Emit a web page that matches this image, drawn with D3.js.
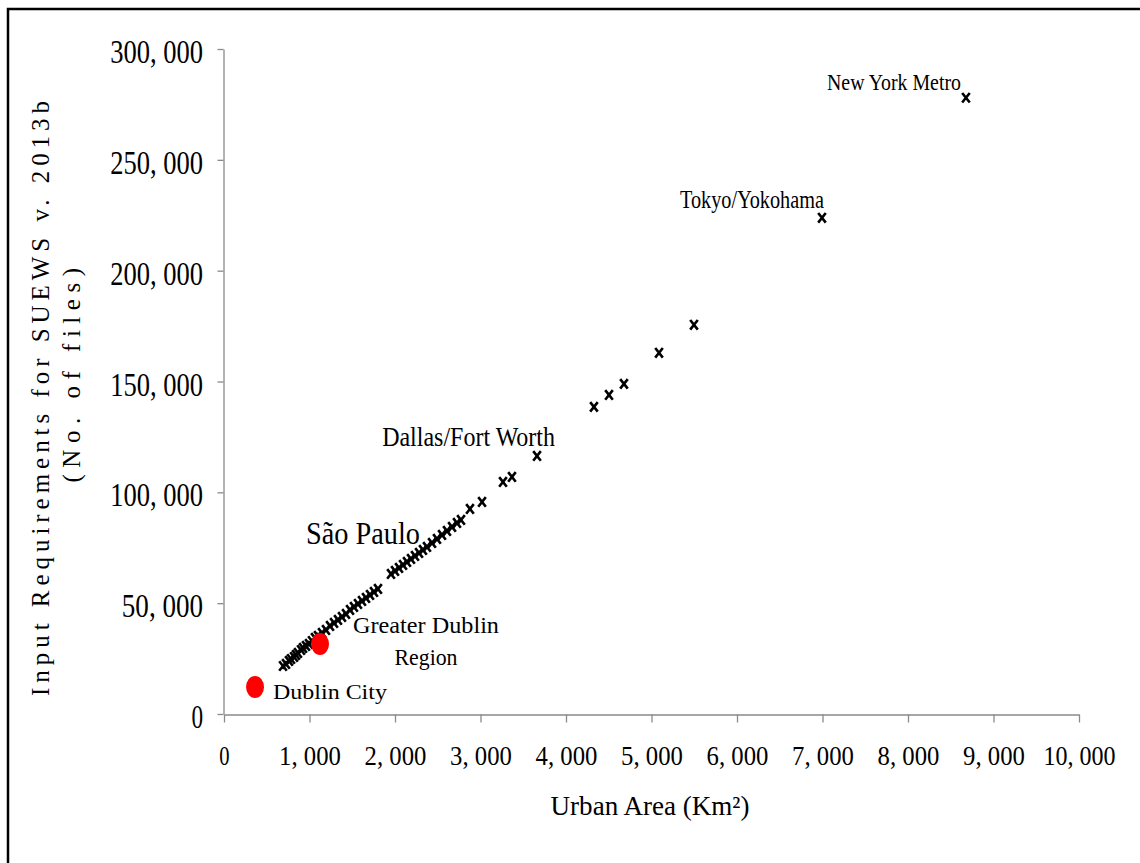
<!DOCTYPE html>
<html>
<head>
<meta charset="utf-8">
<script src="https://cdn.jsdelivr.net/npm/d3@7"></script>
<style>
  html, body { margin: 0; padding: 0; background: #fff; }
  svg { display: block; }
  text { font-family: "Liberation Serif", "DejaVu Serif", serif; fill: #000; }
</style>
</head>
<body>
<svg id="chart" width="1140" height="863"></svg>
<script>
// Urban areas (km²) and SUEWS input requirements (number of files)
const cityArea = [
  690, 725, 760, 784, 819, 842, 865, 901, 924, 959, 994, 1029, 1064, 1099, 1146,
  1193, 1240, 1287, 1333, 1380, 1427, 1474, 1520, 1567, 1614, 1661, 1708, 1754, 1801,
  1953, 2000, 2047, 2094, 2140, 2187, 2234, 2281, 2327, 2374, 2433, 2491, 2550, 2608,
  2667, 2725, 2772, 2877, 3018, 3263, 3368, 3661, 4327, 4503, 4678, 5088, 5497, 6994, 8678
];
const cityFiles = [
  21660, 22570, 23920, 24820, 25720, 26630, 27530, 28880, 29790, 30690, 31590, 32940, 34300, 35200, 36560,
  37910, 39710, 41070, 42420, 43780, 45130, 46940, 48290, 49640, 51000, 52350, 53700, 55060, 56410,
  63180, 64540, 65890, 67240, 68600, 69950, 71310, 72660, 74010, 75370, 77170, 78980, 80780, 82590,
  84390, 86200, 87550, 92520, 95680, 104700, 106960, 116440, 138550, 143960, 148930, 162920, 175560, 223840, 278000
];

// Dublin study areas
const dublinNames = ["Dublin City", "Greater Dublin Region"];
const dublinArea = [363, 1123];
const dublinFiles = [12190, 31590];

// Named metropolitan areas
const metroNames = ["New York Metro", "Tokyo/Yokohama", "Dallas/Fort Worth", "São Paulo"];
const metroArea = [8678, 6994, 3661, 959];
const metroFiles = [278000, 223840, 116440, 76720];

// Axis ticks
const xTicks = [0, 1000, 2000, 3000, 4000, 5000, 6000, 7000, 8000, 9000, 10000];
const yTicks = [0, 50000, 100000, 150000, 200000, 250000, 300000];

const svg = d3.select("#chart");
const x = d3.scaleLinear().domain([0, 10000]).range([224, 1079]);
const y = d3.scaleLinear().domain([0, 300000]).range([714, 49]);
const fmt = d => d3.format(",")(d).replace(",", ", ");

// Squeeze or stretch a text horizontally so it spans the given width,
// keeping its anchor point at (tx, ty).
function fit(sel, tx, ty, width) {
  sel.each(function () {
    const t = d3.select(this);
    const w = this.getComputedTextLength();
    const k = typeof width === "function" ? width(t.datum()) / w : width / w;
    t.attr("x", 0).attr("y", 0).attr("dy", null)
      .attr("transform", `translate(${tx},${ty}) scale(${k},1)`);
  });
}

// Spread a text with letter spacing (glyphs keep their shape), then fit.
function spread(sel, tx, ty, width) {
  sel.each(function () {
    const n = this.textContent.length;
    const w = this.getComputedTextLength();
    d3.select(this).attr("letter-spacing", (width - w) / n);
  });
  sel.call(fit, tx, ty, width);
}

// outer frame
svg.append("rect")
  .attr("x", 8).attr("y", 9).attr("width", 1200).attr("height", 1000)
  .attr("fill", "none").attr("stroke", "#000").attr("stroke-width", 2.5);

const axisColor = "#8a8a8a";

// x axis
const gx = svg.append("g")
  .attr("transform", "translate(0,714.5)")
  .call(d3.axisBottom(x).tickValues(xTicks).tickSize(8).tickSizeOuter(0).tickFormat(fmt));
gx.attr("font-family", null).attr("font-size", null);
gx.selectAll("path, line").attr("stroke", axisColor).attr("stroke-width", 1.3);
gx.selectAll("text").attr("font-size", 27)
  .call(fit, 0, 50.5, d => fmt(d).length * 10.3);

// y axis
const gy = svg.append("g")
  .attr("transform", "translate(223.5,0)")
  .call(d3.axisLeft(y).tickValues(yTicks).tickSize(6).tickSizeOuter(0).tickFormat(fmt));
gy.attr("font-family", null).attr("font-size", null);
gy.selectAll("path, line").attr("stroke", axisColor).attr("stroke-width", 1.3);
gy.selectAll("text").attr("font-size", 34)
  .call(fit, -20.5, 13.5, d => fmt(d).length * 11.6);

// axis titles
svg.append("text")
  .attr("text-anchor", "middle")
  .attr("font-size", 27)
  .text("Urban Area (Km²)")
  .call(fit, 650, 815, 199);

const yTitle = svg.append("g").attr("transform", "translate(49,396) rotate(-90)");
yTitle.append("text")
  .attr("text-anchor", "middle")
  .attr("font-size", 25)
  .text("Input Requirements for SUEWS v. 2013b")
  .call(spread, 0, 0, 600);
yTitle.append("text")
  .attr("text-anchor", "middle")
  .attr("font-size", 25)
  .text("(No. of files)")
  .call(spread, 24, 31, 221);

// city markers
svg.append("g")
  .selectAll("path")
  .data(cityArea.map((a, i) => [a, cityFiles[i]]))
  .join("path")
  .attr("transform", d => `translate(${x(d[0])},${y(d[1])})`)
  .attr("d", "M-3.8,-4.8L3.8,4.8M-3.8,4.8L3.8,-4.8")
  .attr("stroke", "#000").attr("stroke-width", 2.6).attr("fill", "none");

// Dublin points
svg.append("g")
  .selectAll("ellipse")
  .data(dublinArea.map((a, i) => [a, dublinFiles[i]]))
  .join("ellipse")
  .attr("cx", d => x(d[0])).attr("cy", d => y(d[1]))
  .attr("rx", 9).attr("ry", 11)
  .attr("fill", "#ff0000");

function label(text, px, py, anchor, width, size) {
  svg.append("text")
    .attr("text-anchor", anchor)
    .attr("font-size", size)
    .text(text)
    .call(fit, px, py, width);
}

// metro labels: [offset x, offset y, anchor, width, font size]
const metroStyle = [
  [-5, -8, "end", 134, 24],
  [2, -10, "end", 144, 25],
  [18, -10, "end", 173, 27],
  [0, 0, "start", 114, 32]
];
metroNames.forEach((n, i) => {
  const s = metroStyle[i];
  label(n, x(metroArea[i]) + s[0], y(metroFiles[i]) + s[1], s[2], s[3], s[4]);
});

// Dublin labels
label(dublinNames[0], x(dublinArea[0]) + 18, y(dublinFiles[0]) + 12, "start", 114, 22);
const gdParts = dublinNames[1].split(" ");
label(gdParts.slice(0, 2).join(" "), x(dublinArea[1]) + 106, y(dublinFiles[1]) - 11, "middle", 146, 23);
label(gdParts[2], x(dublinArea[1]) + 106, y(dublinFiles[1]) + 21, "middle", 63, 23);
</script>
</body>
</html>
